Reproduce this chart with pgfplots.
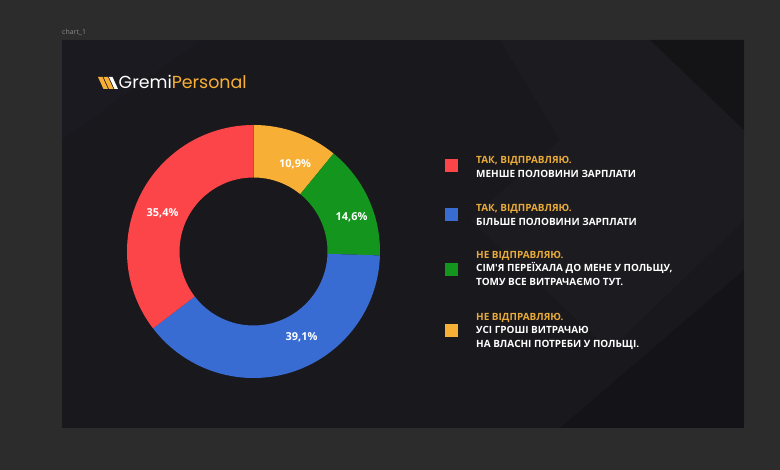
\documentclass[border=0pt]{standalone}
\usepackage{pgfplots}
\pgfplotsset{compat=1.18}
\usepackage{pgfplotstable}
\usepackage{fontspec}
\setmainfont{Open Sans}
\newfontfamily\logofont{Poppins}
\newfontfamily\legfont{Open Sans}

\definecolor{outerbg}{HTML}{2C2C2C}
\definecolor{panelbg}{HTML}{19181D}
\definecolor{panellight}{HTML}{24232A}
\definecolor{sRed}{HTML}{FC4548}
\definecolor{sBlue}{HTML}{386CD2}
\definecolor{sGreen}{HTML}{14961E}
\definecolor{sOrange}{HTML}{F8AF36}
\definecolor{gold}{HTML}{E8AB3A}

% slices in clockwise order starting at 12 o'clock
% lx, ly: label centre in picture pixels (y down)
\pgfplotstableread{
idx value lx    ly
0   10.9  295   164
1   14.6  351.5 217.7
2   39.1  301.5 337.7
3   35.4  162.5 213
}\slices

\pgfplotstablegetelem{0}{value}\of\slices \edef\vA{\pgfplotsretval}
\pgfplotstablegetelem{1}{value}\of\slices \edef\vB{\pgfplotsretval}
\pgfplotstablegetelem{2}{value}\of\slices \edef\vC{\pgfplotsretval}
\pgfplotstablegetelem{3}{value}\of\slices \edef\vD{\pgfplotsretval}
\pgfmathsetmacro\aA{90}
\pgfmathsetmacro\aB{\aA-3.6*\vA}
\pgfmathsetmacro\aC{\aB-3.6*\vB}
\pgfmathsetmacro\aD{\aC-3.6*\vC}
\pgfmathsetmacro\aE{\aD-3.6*\vD}

\def\cx{253.5}
\def\cy{218.5}
\def\Ro{126.5}
\def\Ri{74}

\newcommand{\donutslice}[3]{%
  \fill[#3] ([shift={(#1:\Ro bp)}]axis cs:\cx,\cy)
     arc[start angle=#1, end angle=#2, radius=\Ro bp]
     -- ([shift={(#2:\Ri bp)}]axis cs:\cx,\cy)
     arc[start angle=#2, end angle=#1, radius=\Ri bp] -- cycle;}

\begin{document}
\begin{tikzpicture}
\begin{axis}[
  x=1bp, y=1bp,
  xmin=0, xmax=780, ymin=0, ymax=470,
  hide axis, clip=false,
  anchor=origin, at={(0,0)},
]
% backgrounds
\fill[outerbg] (axis cs:0,0) rectangle (axis cs:780,470);
\fill[panelbg] (axis cs:62,42) rectangle (axis cs:744,430);
\fill[panellight, opacity=0.3] (axis cs:500,430) -- (axis cs:744,430) -- (axis cs:744,250) -- (axis cs:610,120) -- (axis cs:470,250) -- (axis cs:560,330) -- cycle;
\fill[black, opacity=0.25] (axis cs:650,430) -- (axis cs:744,430) -- (axis cs:744,340) -- cycle;
\fill[panellight, opacity=0.25] (axis cs:62,330) -- (axis cs:62,430) -- (axis cs:200,430) -- cycle;
\fill[black, opacity=0.2] (axis cs:744,200) -- (axis cs:744,42) -- (axis cs:560,42) -- cycle;

% chart_1 label
\node[anchor=base west, text=white!55!black, font=\fontsize{7}{8}\selectfont, inner sep=0pt] at (axis cs:62,435) {chart\_1};

% logo icon (backslash-shaped bars)
\fill[sOrange] (axis cs:98,393) -- (axis cs:102.5,393) -- (axis cs:108,381) -- (axis cs:103.5,381) -- cycle;
\fill[sOrange] (axis cs:103.5,393) -- (axis cs:108,393) -- (axis cs:113.5,381) -- (axis cs:109,381) -- cycle;
\fill[white] (axis cs:109,393) -- (axis cs:112.5,393) -- (axis cs:118,381) -- (axis cs:114.5,381) -- cycle;
\node[anchor=base west, inner sep=0pt, font=\logofont\fontsize{17.5}{19}\selectfont] at (axis cs:118.5,381.5)
  {\textcolor{white}{Gremi}\textcolor{sOrange}{Personal}};

% donut
\donutslice{\aA}{\aB}{sOrange}
\donutslice{\aB}{\aC}{sGreen}
\donutslice{\aC}{\aD}{sBlue}
\donutslice{\aD}{\aE}{sRed}

% value labels
\pgfplotsinvokeforeach{0,...,3}{%
  \pgfplotstablegetelem{#1}{value}\of\slices \edef\vv{\pgfplotsretval}%
  \pgfplotstablegetelem{#1}{lx}\of\slices \edef\lx{\pgfplotsretval}%
  \pgfplotstablegetelem{#1}{ly}\of\slices \edef\ly{\pgfplotsretval}%
  \edef\tmp{\noexpand\node[text=white, font=\noexpand\bfseries\noexpand\fontsize{11}{12}\noexpand\selectfont, inner sep=0pt]
     at (axis cs:\lx,{470-\ly}) {\noexpand\pgfmathprintnumber[fixed, fixed zerofill, precision=1, use comma, assume math mode=true]{\vv}\noexpand\%};}%
  \tmp
}

% legend
\newcommand{\legsq}[2]{\fill[#1] (axis cs:445,{470-#2+6.5}) rectangle (axis cs:458,{470-#2-6.5});}
\legsq{sRed}{166}
\legsq{sBlue}{214.5}
\legsq{sGreen}{269.5}
\legsq{sOrange}{330.5}
\tikzset{legt/.style={anchor=base west, inner sep=0pt, font=\legfont\bfseries\fontsize{10}{12}\selectfont}}
\node[legt, text=gold]  at (axis cs:476,{470-164}) {ТАК, ВІДПРАВЛЯЮ.};
\node[legt, text=white] at (axis cs:476,{470-178}) {МЕНШЕ ПОЛОВИНИ ЗАРПЛАТИ};
\node[legt, text=gold]  at (axis cs:476,{470-212}) {ТАК, ВІДПРАВЛЯЮ.};
\node[legt, text=white] at (axis cs:476,{470-225.5}) {БІЛЬШЕ ПОЛОВИНИ ЗАРПЛАТИ};
\node[legt, text=gold]  at (axis cs:476,{470-258.5}) {НЕ ВІДПРАВЛЯЮ.};
\node[legt, text=white] at (axis cs:476,{470-272}) {СІМ'Я ПЕРЕЇХАЛА ДО МЕНЕ У ПОЛЬЩУ,};
\node[legt, text=white] at (axis cs:476,{470-285.5}) {ТОМУ ВСЕ ВИТРАЧАЄМО ТУТ.};
\node[legt, text=gold]  at (axis cs:476,{470-321}) {НЕ ВІДПРАВЛЯЮ.};
\node[legt, text=white] at (axis cs:476,{470-334}) {УСІ ГРОШІ ВИТРАЧАЮ};
\node[legt, text=white] at (axis cs:476,{470-348}) {НА ВЛАСНІ ПОТРЕБИ У ПОЛЬЩІ.};
\end{axis}
\end{tikzpicture}
\end{document}
